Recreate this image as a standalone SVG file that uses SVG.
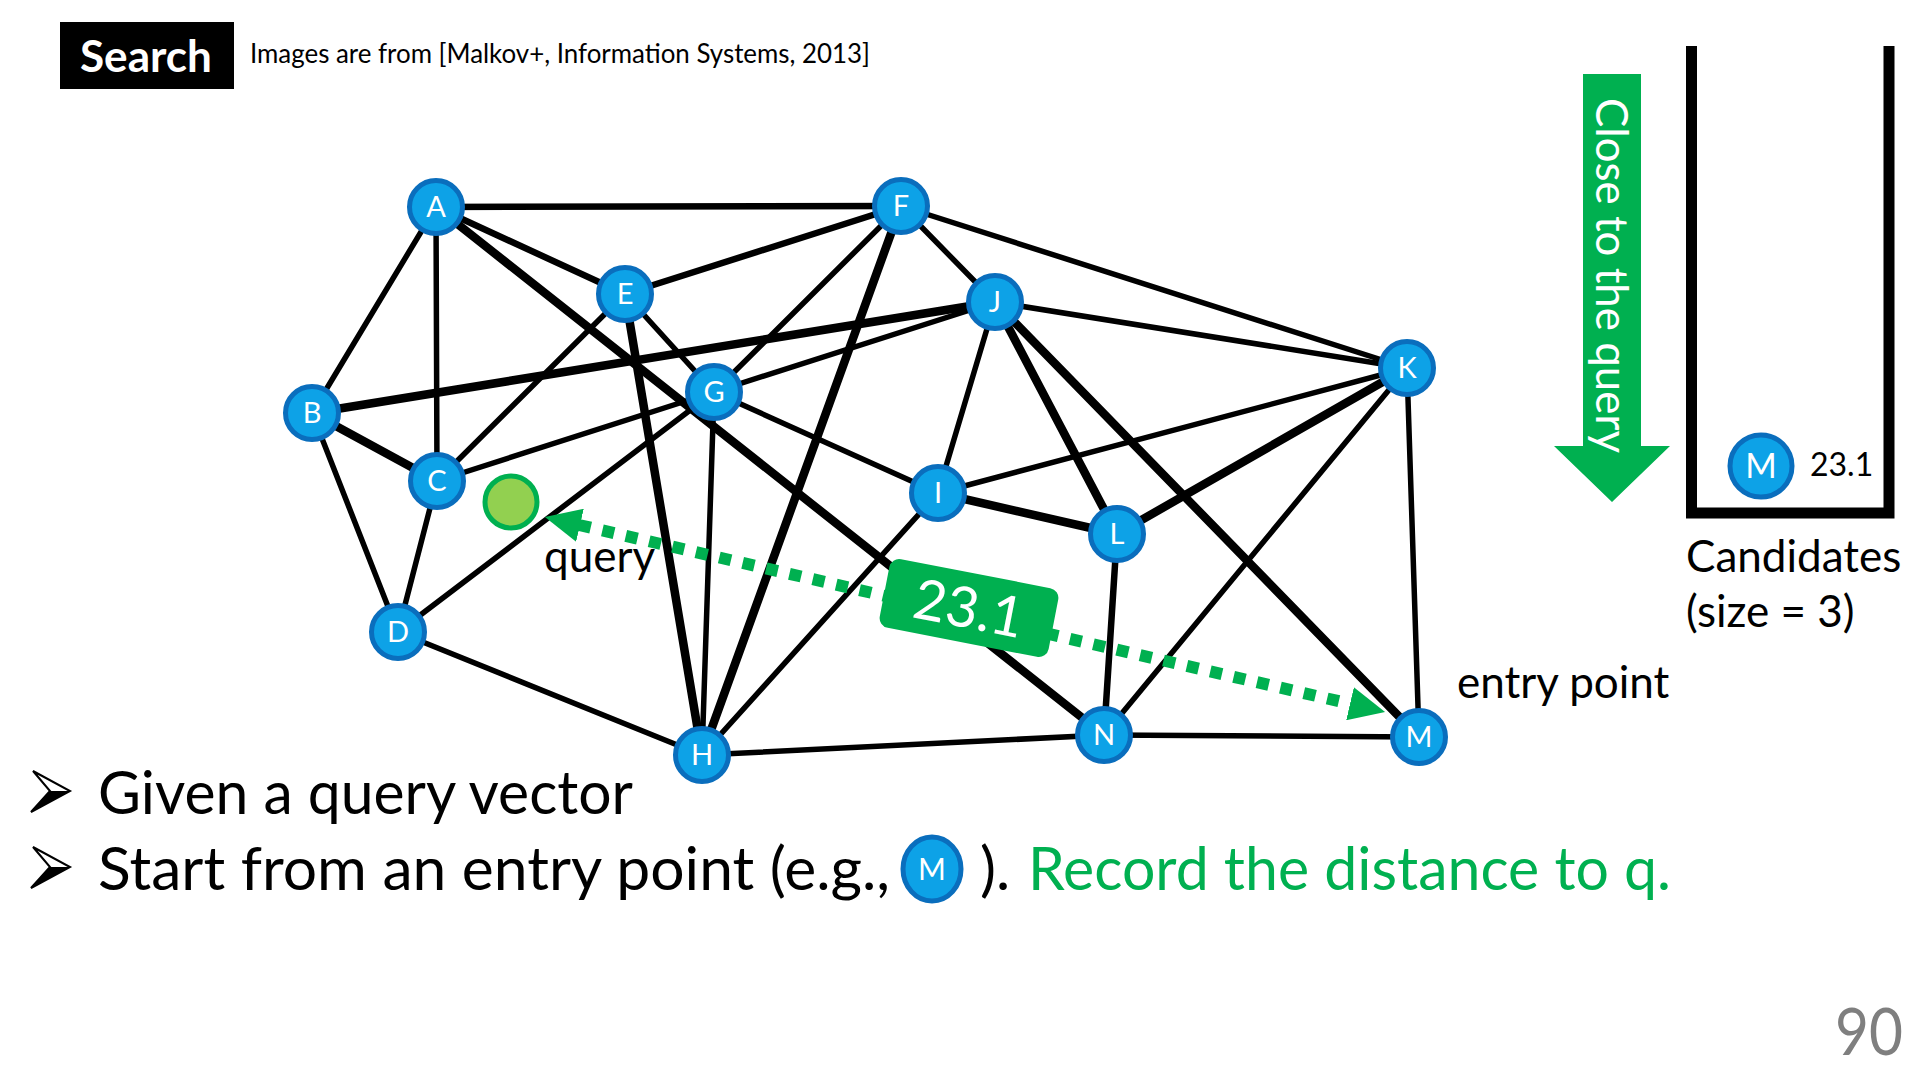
<svg xmlns="http://www.w3.org/2000/svg" width="1920" height="1080" viewBox="0 0 1920 1080">
<style>
  text { font-family: Lato, "Open Sans", "Liberation Sans", sans-serif; }
  .e { stroke: #000; stroke-linecap: round; fill: none; }
  .t5 { stroke-width: 5.5; }
  .t6 { stroke-width: 6.5; }
  .t8 { stroke-width: 8.5; }
  .node { fill: #0DA2E7; stroke: #0A6EBD; stroke-width: 5; }
  .lbl { fill: #fff; font-size: 29px; text-anchor: middle; }
  .big { font-size: 60px; fill: #000; }
  .mid { font-size: 44px; fill: #000; }
  .green { fill: #00B050; }
</style>
<defs>
  <marker id="ah" viewBox="0 0 36 34" refX="1" refY="17" markerWidth="36" markerHeight="34" markerUnits="userSpaceOnUse" orient="auto-start-reverse">
    <path d="M0,0 L36,17 L0,34 z" fill="#00B050"/>
  </marker>
</defs>
<rect width="1920" height="1080" fill="#fff"/>

<g id="title">
  <rect x="60" y="22" width="174" height="67" fill="#000"/>
  <text x="80" y="72" font-size="43" font-weight="bold" fill="#fff" textLength="132" lengthAdjust="spacingAndGlyphs">Search</text>
</g>
<text id="source" x="250" y="63" font-size="26" fill="#000" textLength="620" lengthAdjust="spacingAndGlyphs">Images are from [Malkov+, Information Systems, 2013]</text>

<g id="connectors">
  <line class="e t6" x1="436" y1="207" x2="901" y2="206"/>
  <line class="e t5" x1="436" y1="207" x2="312" y2="413"/>
  <line class="e t5" x1="436" y1="207" x2="437" y2="481"/>
  <line class="e t6" x1="436" y1="207" x2="625" y2="294"/>
  <line class="e t8" x1="436" y1="207" x2="1104" y2="735"/>
  <line class="e t6" x1="901" y1="206" x2="625" y2="294"/>
  <line class="e t5" x1="901" y1="206" x2="714" y2="392"/>
  <line class="e t8" x1="901" y1="206" x2="702" y2="755"/>
  <line class="e t5" x1="901" y1="206" x2="995" y2="302"/>
  <line class="e t5" x1="901" y1="206" x2="1407" y2="368"/>
  <line class="e t5" x1="625" y1="294" x2="437" y2="481"/>
  <line class="e t5" x1="625" y1="294" x2="714" y2="392"/>
  <line class="e t8" x1="625" y1="294" x2="702" y2="755"/>
  <line class="e t8" x1="312" y1="413" x2="995" y2="302"/>
  <line class="e t8" x1="312" y1="413" x2="437" y2="481"/>
  <line class="e t5" x1="312" y1="413" x2="398" y2="632"/>
  <line class="e t5" x1="437" y1="481" x2="398" y2="632"/>
  <line class="e t5" x1="437" y1="481" x2="714" y2="392"/>
  <line class="e t5" x1="714" y1="392" x2="995" y2="302"/>
  <line class="e t5" x1="398" y1="632" x2="714" y2="392"/>
  <line class="e t5" x1="398" y1="632" x2="702" y2="755"/>
  <line class="e t5" x1="714" y1="392" x2="702" y2="755"/>
  <line class="e t5" x1="714" y1="392" x2="938" y2="493"/>
  <line class="e t5" x1="938" y1="493" x2="995" y2="302"/>
  <line class="e t5" x1="938" y1="493" x2="1407" y2="368"/>
  <line class="e t8" x1="938" y1="493" x2="1117" y2="534"/>
  <line class="e t5" x1="938" y1="493" x2="702" y2="755"/>
  <line class="e t5" x1="995" y1="302" x2="1407" y2="368"/>
  <line class="e t8" x1="995" y1="302" x2="1117" y2="534"/>
  <line class="e t8" x1="995" y1="302" x2="1419" y2="737"/>
  <line class="e t8" x1="1407" y1="368" x2="1117" y2="534"/>
  <line class="e t5" x1="1407" y1="368" x2="1104" y2="735"/>
  <line class="e t5" x1="1407" y1="368" x2="1419" y2="737"/>
  <line class="e t6" x1="1117" y1="534" x2="1104" y2="735"/>
  <line class="e t5" x1="702" y1="755" x2="1104" y2="735"/>
  <line class="e t5" x1="1104" y1="735" x2="1419" y2="737"/>
</g>

<g id="node-A"><circle class="node" cx="436" cy="207" r="26.5"/><text class="lbl" x="436" y="217">A</text></g>
<g id="node-F"><circle class="node" cx="901" cy="206" r="26.5"/><text class="lbl" x="901" y="216">F</text></g>
<g id="node-E"><circle class="node" cx="625" cy="294" r="26.5"/><text class="lbl" x="625" y="304">E</text></g>
<g id="node-J"><circle class="node" cx="995" cy="302" r="26.5"/><text class="lbl" x="995" y="312">J</text></g>
<g id="node-K"><circle class="node" cx="1407" cy="368" r="26.5"/><text class="lbl" x="1407" y="378">K</text></g>
<g id="node-B"><circle class="node" cx="312" cy="413" r="26.5"/><text class="lbl" x="312" y="423">B</text></g>
<g id="node-G"><circle class="node" cx="714" cy="392" r="26.5"/><text class="lbl" x="714" y="402">G</text></g>
<g id="node-C"><circle class="node" cx="437" cy="481" r="26.5"/><text class="lbl" x="437" y="491">C</text></g>
<g id="node-I"><circle class="node" cx="938" cy="493" r="26.5"/><text class="lbl" x="938" y="503">I</text></g>
<g id="node-L"><circle class="node" cx="1117" cy="534" r="26.5"/><text class="lbl" x="1117" y="544">L</text></g>
<g id="node-D"><circle class="node" cx="398" cy="632" r="26.5"/><text class="lbl" x="398" y="642">D</text></g>
<g id="node-H"><circle class="node" cx="702" cy="755" r="26.5"/><text class="lbl" x="702" y="765">H</text></g>
<g id="node-N"><circle class="node" cx="1104" cy="735" r="26.5"/><text class="lbl" x="1104" y="745">N</text></g>
<g id="node-M"><circle class="node" cx="1419" cy="737" r="26.5"/><text class="lbl" x="1419" y="747">M</text></g>

<g id="query">
  <circle cx="511" cy="502" r="26" fill="#92D050" stroke="#00B050" stroke-width="5"/>
  <text class="mid" x="544" y="572">query</text>
</g>

<g id="distance">
  <line x1="579" y1="525" x2="1351" y2="704" stroke="#00B050" stroke-width="12" stroke-dasharray="12 12" marker-start="url(#ah)" marker-end="url(#ah)"/>
  <g transform="translate(969,608) rotate(11)">
    <rect x="-86" y="-35" width="172" height="70" rx="10" fill="#00B050"/>
    <text x="0" y="20" font-size="56" fill="#fff" text-anchor="middle">23.1</text>
  </g>
</g>

<text id="entry-label" class="mid" x="1457" y="698">entry point</text>

<g id="close-arrow">
  <polygon points="1583,74 1641,74 1641,446 1670,446 1612,502 1554,446 1583,446" fill="#00B050"/>
  <text transform="translate(1596,98) rotate(90)" font-size="45" fill="#fff" textLength="355" lengthAdjust="spacingAndGlyphs">Close to the query</text>
</g>

<g id="candidates">
  <path d="M1691.5,46 V513 H1889 V46" fill="none" stroke="#000" stroke-width="11"/>
  <circle class="node" cx="1761" cy="466" r="31"/>
  <text x="1761" y="478" font-size="34" fill="#fff" text-anchor="middle">M</text>
  <text x="1810" y="476" font-size="32" fill="#000">23.1</text>
  <text class="mid" x="1686" y="572">Candidates</text>
  <text class="mid" x="1686" y="627">(size = 3)</text>
</g>

<g id="bullet1" transform="translate(31,771)">
  <polygon points="2,0 39,20 0,41 19,20" fill="#fff" stroke="#000" stroke-width="2" stroke-linejoin="miter"/>
  <polygon points="19,20 39,20 0,41" fill="#000"/>
</g>
<text class="big" x="98" y="814" textLength="535" lengthAdjust="spacingAndGlyphs">Given a query vector</text>

<g id="bullet2" transform="translate(31,847)">
  <polygon points="2,0 39,20 0,41 19,20" fill="#fff" stroke="#000" stroke-width="2" stroke-linejoin="miter"/>
  <polygon points="19,20 39,20 0,41" fill="#000"/>
</g>
<text class="big" x="98" y="890" textLength="792" lengthAdjust="spacingAndGlyphs">Start from an entry point (e.g.,</text>
<g id="inline-M">
  <ellipse cx="932" cy="869" rx="29" ry="32" fill="#0DA2E7" stroke="#0A6EBD" stroke-width="5"/>
  <text x="932" y="880" font-size="30" fill="#fff" text-anchor="middle">M</text>
</g>
<text class="big" x="980" y="890">).</text>
<text class="big green" x="1028" y="890" textLength="643" lengthAdjust="spacingAndGlyphs">Record the distance to q.</text>

<text id="page" x="1903" y="1055" font-size="66" fill="#7F7F7F" text-anchor="end" textLength="68" lengthAdjust="spacingAndGlyphs">90</text>
</svg>
